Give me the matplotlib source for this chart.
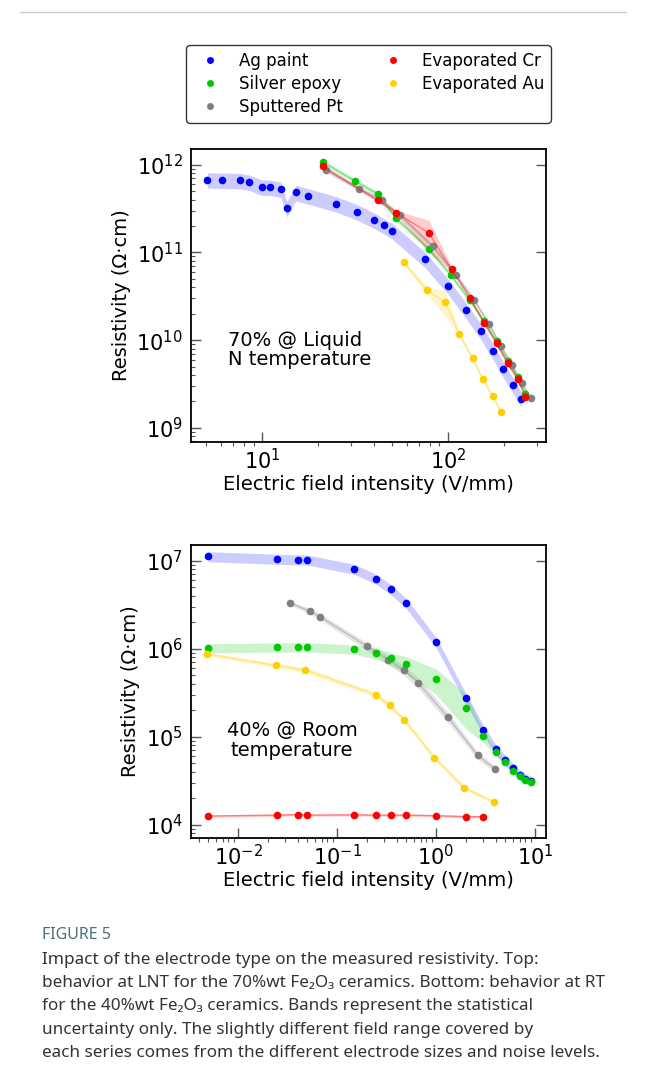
import matplotlib
matplotlib.use("Agg")
import matplotlib.pyplot as plt
from matplotlib.lines import Line2D
import numpy as np

# ---- top panel: 70% @ liquid N temperature ----
ag_top_x = [5.08, 6.07, 7.62, 8.55, 10.0, 11.0, 12.6, 13.6, 15.2, 17.6, 25.0, 32.5, 40.0,
            45.1, 50.2, 75.2, 100, 124.5, 150.4, 175.2, 198.3, 224.4, 247.9]
ag_top_y = [6.74e11, 6.70e11, 6.63e11, 6.36e11, 5.58e11, 5.58e11, 5.30e11, 3.18e11, 4.84e11,
            4.45e11, 3.61e11, 2.92e11, 2.35e11, 2.03e11, 1.77e11, 8.4e10, 4.19e10, 2.23e10,
            1.27e10, 7.48e9, 4.68e9, 3.09e9, 2.14e9]
ag_top_err = [0.2] * len(ag_top_x)

epoxy_top_x = [21.2, 31.5, 42.0, 52.5, 78.8, 103.5, 130.8, 156.7, 182.7, 209.4, 237, 260.4]
epoxy_top_y = [1.08e12, 6.53e11, 4.64e11, 2.45e11, 1.10e11, 5.52e10, 2.87e10, 1.64e10,
               9.75e9, 5.77e9, 3.80e9, 2.45e9]
epoxy_top_err = [0.06] * len(epoxy_top_x)

pt_top_x = [22.1, 33.3, 44.3, 55.4, 83.0, 110.8, 138.4, 166.7, 192.7, 220.8, 249, 278.4]
pt_top_y = [8.61e11, 5.33e11, 3.93e11, 2.65e11, 1.17e11, 5.52e10, 2.83e10, 1.52e10,
            8.61e9, 5.24e9, 3.27e9, 2.21e9]
pt_top_err = [0.06] * len(pt_top_x)

cr_top_x = [21.2, 41.9, 52.5, 79.1, 104.7, 131.3, 156.7, 182.7, 209.4, 237, 260.4]
cr_top_y = [9.57e11, 3.93e11, 2.85e11, 1.66e11, 6.41e10, 3.03e10, 1.56e10, 9.18e9,
            5.43e9, 3.61e9, 2.27e9]
cr_top_err = [0.05, 0.05, 0.06, 0.4, 0.06, 0.05, 0.05, 0.05, 0.05, 0.05, 0.05]

au_top_x = [58.0, 77.1, 96.7, 115, 135.8, 153.7, 174, 193.5]
au_top_y = [7.69e10, 3.70e10, 2.72e10, 1.17e10, 6.19e9, 3.61e9, 2.29e9, 1.51e9]
au_top_err = [0.05, 0.1, 0.32, 0.07, 0.05, 0.05, 0.05, 0.05]

# ---- bottom panel: 40% @ room temperature ----
ag_bot_x = [0.005, 0.025, 0.04, 0.05, 0.15, 0.25, 0.35, 0.5, 1, 2, 3, 4, 5, 6, 7, 8, 9]
ag_bot_y = [1.12e7, 1.05e7, 1.03e7, 1.03e7, 8.05e6, 6.2e6, 4.72e6, 3.31e6, 1.19e6, 2.77e5,
            1.20e5, 7.25e4, 5.43e4, 4.41e4, 3.73e4, 3.36e4, 3.19e4]
ag_bot_err = [0.13] * len(ag_bot_x)

epoxy_bot_x = [0.005, 0.025, 0.04, 0.05, 0.15, 0.25, 0.35, 0.5, 1, 2, 3, 4, 5, 6, 7, 8, 9]
epoxy_bot_y = [1.02e6, 1.04e6, 1.05e6, 1.05e6, 9.83e5, 8.85e5, 7.77e5, 6.64e5, 4.48e5,
               2.14e5, 1.01e5, 6.70e4, 5.16e4, 4.11e4, 3.61e4, 3.25e4, 3.03e4]
epoxy_bot_err = [0.12, 0.12, 0.12, 0.12, 0.12, 0.14, 0.17, 0.22, 0.32, 0.42, 0.15, 0.08,
                 0.05, 0.04, 0.04, 0.04, 0.04]

pt_bot_x = [0.0335, 0.053, 0.067, 0.2, 0.33, 0.47, 0.66, 1.32, 2.64, 3.95]
pt_bot_y = [3.31e6, 2.67e6, 2.32e6, 1.07e6, 7.53e5, 5.74e5, 4.11e5, 1.67e5, 6.14e4, 4.30e4]
pt_bot_err = [0.05, 0.07, 0.08, 0.1, 0.12, 0.12, 0.13, 0.13, 0.1, 0.08]

cr_bot_x = [0.005, 0.025, 0.04, 0.05, 0.15, 0.25, 0.35, 0.5, 1, 2, 3]
cr_bot_y = [1.26e4, 1.29e4, 1.31e4, 1.29e4, 1.30e4, 1.29e4, 1.29e4, 1.29e4, 1.27e4,
            1.24e4, 1.24e4]
cr_bot_err = [0.03] * len(cr_bot_x)

au_bot_x = [0.0049, 0.024, 0.048, 0.245, 0.34, 0.48, 0.96, 1.92, 3.85]
au_bot_y = [8.71e5, 6.46e5, 5.73e5, 3.02e5, 2.27e5, 1.55e5, 5.82e4, 2.65e4, 1.81e4]
au_bot_err = [0.05, 0.06, 0.07, 0.07, 0.07, 0.07, 0.07, 0.06, 0.05]

names = ["Ag paint", "Silver epoxy", "Sputtered Pt", "Evaporated Cr", "Evaporated Au"]
colors = ["#0000ff", "#00c800", "#808080", "#ff0000", "#ffd000"]

caption = ("Impact of the electrode type on the measured resistivity. Top:\n"
           "behavior at LNT for the 70%wt Fe\u2082O\u2083 ceramics. Bottom: behavior at RT\n"
           "for the 40%wt Fe\u2082O\u2083 ceramics. Bands represent the statistical\n"
           "uncertainty only. The slightly different field range covered by\n"
           "each series comes from the different electrode sizes and noise levels.")


def draw_series(ax, x, y, err, color, line=True):
    x = np.array(x)
    y = np.array(y)
    e = np.array(err)
    ax.fill_between(x, y * (1 - e), y * (1 + e), color=color, alpha=0.2, lw=0)
    if line:
        ax.plot(x, y, color=color, lw=1, alpha=0.4)
    ax.plot(x, y, 'o', color=color, ms=5.5, mec='none')


def style_axes(ax):
    ax.set_xscale('log')
    ax.set_yscale('log')
    ax.tick_params(which='major', direction='in', length=7, width=1, labelsize=15,
                   left=True, right=True, top=False, color='#555555', pad=6)
    ax.tick_params(axis='x', which='major', pad=4)
    ax.tick_params(which='minor', length=3, width=0.8, color='#555555', right=False, top=False)
    ax.tick_params(axis='x', which='minor', direction='out')
    ax.tick_params(axis='y', which='minor', direction='in')
    for s in ax.spines.values():
        s.set_linewidth(1.3)
    ax.set_ylabel('Resistivity (Ω·cm)', fontsize=14)
    ax.set_xlabel('Electric field intensity (V/mm)', fontsize=14, labelpad=2)


fig = plt.figure(figsize=(6.46, 10.79), dpi=100)

ax1 = fig.add_axes([0.2957, 0.5904, 0.5495, 0.2715])
draw_series(ax1, ag_top_x, ag_top_y, ag_top_err, colors[0], line=False)
draw_series(ax1, epoxy_top_x, epoxy_top_y, epoxy_top_err, colors[1])
draw_series(ax1, pt_top_x, pt_top_y, pt_top_err, colors[2])
draw_series(ax1, cr_top_x, cr_top_y, cr_top_err, colors[3])
draw_series(ax1, au_top_x, au_top_y, au_top_err, colors[4])
style_axes(ax1)
ax1.set_xlim(4.15, 337)
ax1.set_ylim(6.9e8, 1.51e12)
ax1.text(0.104, 0.314, '70% @ Liquid\nN temperature', transform=ax1.transAxes,
         fontsize=14, ha='left', va='center', linespacing=1.05)

ax2 = fig.add_axes([0.2957, 0.2234, 0.5495, 0.2715])
draw_series(ax2, ag_bot_x, ag_bot_y, ag_bot_err, colors[0], line=False)
draw_series(ax2, pt_bot_x, pt_bot_y, pt_bot_err, colors[2])
draw_series(ax2, epoxy_bot_x, epoxy_bot_y, epoxy_bot_err, colors[1], line=False)
draw_series(ax2, cr_bot_x, cr_bot_y, cr_bot_err, colors[3])
draw_series(ax2, au_bot_x, au_bot_y, au_bot_err, colors[4])
style_axes(ax2)
ax2.set_xlim(0.00335, 12.9)
ax2.set_ylim(7.1e3, 1.51e7)
ax2.text(0.285, 0.333, '40% @ Room\ntemperature', transform=ax2.transAxes,
         fontsize=14, ha='center', va='center', multialignment='center', linespacing=1.05)

handles = [Line2D([], [], marker='o', ls='none', color=c, ms=5, mec='none') for c in colors]
fig.legend(handles, names, loc='upper center', bbox_to_anchor=(0.5704, 0.9657), ncol=2,
           fontsize=12, frameon=True, edgecolor='black', fancybox=True,
           handletextpad=0.75, columnspacing=2.0, borderpad=0.4, labelspacing=0.3)

# card border and caption
fig.add_artist(Line2D([20 / 646, 626 / 646], [1 - 12 / 1079, 1 - 12 / 1079],
                      color='#d0d0d0', lw=1))
fig.text(42 / 646, 1 - 935 / 1079, 'FIGURE 5', fontsize=11.5, color='#4a7080',
         family=['Noto Sans', 'DejaVu Sans'], va='center')
fig.text(42 / 646, 1 - 952 / 1079, caption, fontsize=12.3, color='#333333',
         family=['Noto Sans', 'DejaVu Sans'], va='top', linespacing=1.6)

fig.savefig('out.png', dpi=100)
